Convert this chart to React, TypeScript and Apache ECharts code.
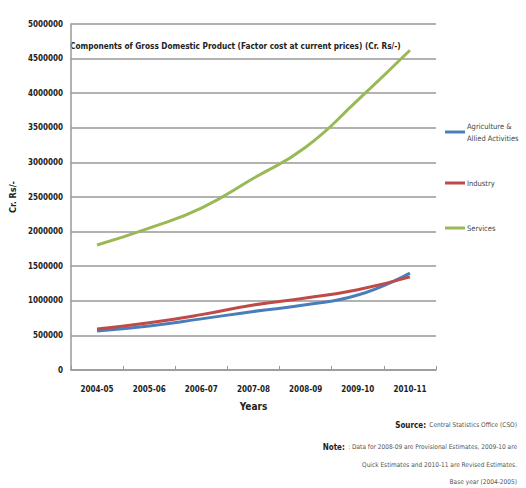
import React, { useEffect, useRef } from "react";
import * as echarts from "echarts";

const years = ["2004-05", "2005-06", "2006-07", "2007-08", "2008-09", "2009-10", "2010-11"];
const agriculture = [565000, 637000, 739000, 846000, 943000, 1083000, 1400000];
const industry = [592000, 682000, 800000, 940000, 1040000, 1160000, 1345000];
const services = [1806000, 2050000, 2340000, 2770000, 3220000, 3900000, 4620000];

const FONT = "'DejaVu Sans Condensed', 'Liberation Sans', sans-serif";

export default function App() {
  const ref = useRef<HTMLDivElement>(null);
  useEffect(() => {
    const chart = echarts.init(ref.current!, null, { renderer: "svg" });
    const mk = (name: string, data: number[], color: string) => ({
      name,
      type: "line",
      data,
      smooth: true,
      symbol: "none",
      lineStyle: { color, width: 3 },
      itemStyle: { color },
    });
    chart.setOption({
      animation: false,
      backgroundColor: "#ffffff",
      textStyle: { fontFamily: FONT },
      grid: { left: 65, right: 90, top: 24, bottom: 118, containLabel: false },
      legend: {
        orient: "vertical",
        left: 440,
        top: 115,
        itemWidth: 20,
        itemHeight: 3,
        itemGap: 33,
        icon: "rect",
        formatter: (n: string) => (n === "Agriculture & Allied Activities" ? "Agriculture &\nAllied Activities" : n),
        textStyle: { fontFamily: FONT, fontSize: 7.5, color: "#444", lineHeight: 12, padding: [0, 0, 0, -3] },
        data: ["Agriculture & Allied Activities", "Industry", "Services"],
      },
      xAxis: {
        type: "category",
        data: years,
        boundaryGap: true,
        name: "Years",
        nameLocation: "middle",
        nameGap: 31,
        nameTextStyle: { fontFamily: FONT, fontSize: 10, fontWeight: "bold", color: "#222" },
        axisLine: { lineStyle: { color: "#999", width: 1.5 } },
        axisTick: { show: true, inside: true, length: 4, lineStyle: { color: "#999" } },
        axisLabel: { fontFamily: FONT, fontSize: 8, fontWeight: "bold", color: "#222", margin: 15, interval: 0 },
      },
      yAxis: {
        type: "value",
        min: 0,
        max: 5000000,
        interval: 500000,
        name: "Cr. Rs/-",
        nameLocation: "middle",
        nameGap: 48,
        nameRotate: 90,
        nameTextStyle: { fontFamily: FONT, fontSize: 9, fontWeight: "bold", color: "#222", padding: [0, 0, 0, 0] },
        axisLine: { show: true, lineStyle: { color: "#999", width: 1.5 } },
        axisTick: { show: false },
        splitLine: { lineStyle: { color: "#999", width: 1.5 } },
        axisLabel: {
          fontFamily: FONT,
          fontSize: 8,
          fontWeight: "bold",
          color: "#222",
          margin: 8,
          formatter: (v: number) => String(v),
        },
      },
      graphic: [
        {
          type: "text",
          left: 70,
          top: 42,
          style: {
            text: "Components of Gross Domestic Product (Factor cost at current prices) (Cr. Rs/-)",
            font: `bold 8.2px ${FONT}`,
            fill: "#222",
          },
        },
        {
          type: "text",
          right: 9,
          top: 419,
          style: {
            rich: {
              b: { font: `bold 8px ${FONT}`, fill: "#222" },
              n: { font: `6.5px ${FONT}`, fill: "#555" },
            },
            text: "{b|Source:} {n|Central Statistics Office (CSO)}",
          },
        },
        {
          type: "text",
          right: 9,
          top: 441,
          style: {
            rich: {
              b: { font: `bold 8px ${FONT}`, fill: "#222" },
              n: { font: `6.5px ${FONT}`, fill: "#555" },
            },
            text: "{b|Note:} {n|: Data for 2008-09 are Provisional Estimates, 2009-10 are}",
          },
        },
        {
          type: "text",
          right: 9,
          top: 461,
          style: { text: "Quick Estimates and 2010-11 are Revised Estimates.", font: `6.5px ${FONT}`, fill: "#555" },
        },
        {
          type: "text",
          right: 9,
          top: 478,
          style: { text: "Base year (2004-2005)", font: `6.5px ${FONT}`, fill: "#555" },
        },
      ],
      series: [
        mk("Agriculture & Allied Activities", agriculture, "#4a7ebb"),
        mk("Industry", industry, "#be4b48"),
        mk("Services", services, "#98b954"),
      ],
    });
    return () => chart.dispose();
  }, []);
  return <div ref={ref} style={{ position: "fixed", left: 0, top: 0, width: 526, height: 488 }} />;
}
